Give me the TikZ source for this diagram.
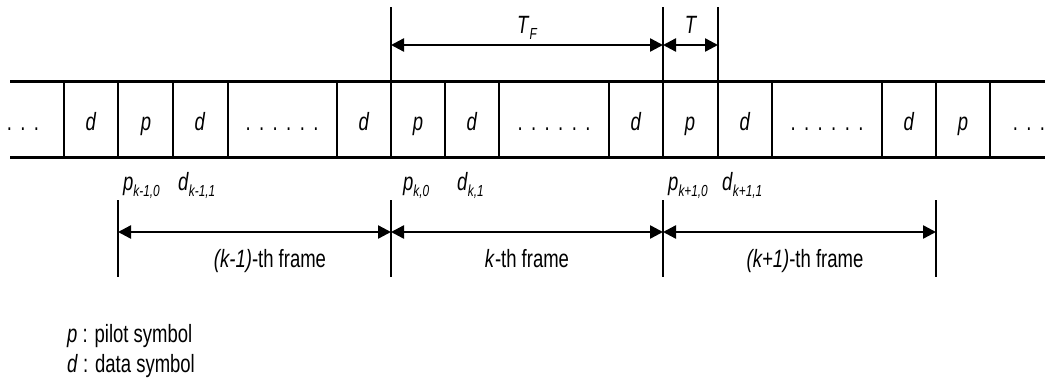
\documentclass[tikz,border=0pt]{standalone}
\usepackage{fontspec}
\setmainfont{Liberation Sans}[FakeStretch=0.74]
\usetikzlibrary{arrows.meta}
\newcommand\sbs[1]{\raisebox{-6pt}{\fontsize{16}{16}\selectfont\textit{#1}}}
\newcommand\spdots[1]{\foreach \i in {1,...,#1}{\ifnum\i>1\hspace{8.4pt}\fi.}}
\begin{document}
\begin{tikzpicture}[x=1pt,y=-1pt,
  hline/.style={line width=3pt},
  vline/.style={line width=2pt},
  dimarrow/.style={line width=2.4pt,{Triangle[length=13pt,width=13pt]}-{Triangle[length=13pt,width=13pt]}},
  lbl/.style={font=\fontsize{25}{29}\selectfont, inner sep=0pt, anchor=base},
  sublbl/.style={font=\fontsize{25}{29}\selectfont, inner sep=0pt, anchor=base west}]
\useasboundingbox (0,0) rectangle (1048,383);

% horizontal lines
\coordinate (tl) at (10,81); \coordinate (tr) at (1045,81);
\coordinate (bl) at (10,157); \coordinate (br) at (1045,157);
\draw[hline] (tl) -- (tr);
\draw[hline] (bl) -- (br);

% cell boundaries
\foreach \x in {64,118,173,228,337,445,499,609,772,882,936,990}{
  \draw[vline] (\x,81) -- (\x,157);
}
% tall boundaries
\foreach \x/\n in {391/a,663/b,718/c}{
  \coordinate (top\n) at (\x,7);
  \coordinate (bot\n) at (\x,157);
  \draw[vline] (top\n) -- (bot\n);
}

% cell texts
\node[lbl] (c0) at (23,130) {\spdots{3}};
\node[lbl] (c1) at (91,130) {\textit{d}};
\node[lbl] (c2) at (146,130) {\textit{p}};
\node[lbl] (c3) at (200,130) {\textit{d}};
\node[lbl] (c4) at (282,130) {\spdots{6}};
\node[lbl] (c5) at (364,130) {\textit{d}};
\node[lbl] (c6) at (418,130) {\textit{p}};
\node[lbl] (c7) at (472,130) {\textit{d}};
\node[lbl] (c8) at (554,130) {\spdots{6}};
\node[lbl] (c9) at (636,130) {\textit{d}};
\node[lbl] (c10) at (690,130) {\textit{p}};
\node[lbl] (c11) at (745,130) {\textit{d}};
\node[lbl] (c12) at (827,130) {\spdots{6}};
\node[lbl] (c13) at (909,130) {\textit{d}};
\node[lbl] (c14) at (963,130) {\textit{p}};
\node[lbl] (c15) at (1029,130) {\spdots{3}};

% top dimension arrows
\coordinate (tfa) at (391,45); \coordinate (tfb) at (663,45); \coordinate (tc) at (718,45);
\draw[dimarrow] (tfa) -- (tfb);
\draw[dimarrow] (tfb) -- (tc);
\node[sublbl] (TF) at (517,33) {\textit{T}\sbs{F}};
\node[lbl] (T) at (691,33) {\textit{T}};

% symbol labels
\node[sublbl] (pk1) at (123,190) {\textit{p}\sbs{k-1,0}};
\node[sublbl] (dk1) at (178,190) {\textit{d}\sbs{k-1,1}};
\node[sublbl] (pk) at (403,190) {\textit{p}\sbs{k,0}};
\node[sublbl] (dk) at (457,190) {\textit{d}\sbs{k,1}};
\node[sublbl] (pk2) at (668,190) {\textit{p}\sbs{k+1,0}};
\node[sublbl] (dk2) at (722,190) {\textit{d}\sbs{k+1,1}};

% frame ticks
\foreach \x/\n in {118/f0,391/f1,663/f2,936/f3}{
  \coordinate (\n t) at (\x,200);
  \coordinate (\n b) at (\x,277);
  \coordinate (\n m) at (\x,232);
  \draw[vline] (\n t) -- (\n b);
}
\draw[dimarrow] (f0m) -- (f1m);
\draw[dimarrow] (f1m) -- (f2m);
\draw[dimarrow] (f2m) -- (f3m);
\node[lbl] (fr0) at (270,267) {\textit{(k-1)}-th frame};
\node[lbl] (fr1) at (527,267) {\textit{k}-th frame};
\node[lbl] (fr2) at (805,267) {\textit{(k+1)}-th frame};

% legend
\node[sublbl] (leg1) at (67,342) {\textit{p} : pilot symbol};
\node[sublbl] (leg2) at (67,372) {\textit{d} : data symbol};
\end{tikzpicture}
\end{document}
